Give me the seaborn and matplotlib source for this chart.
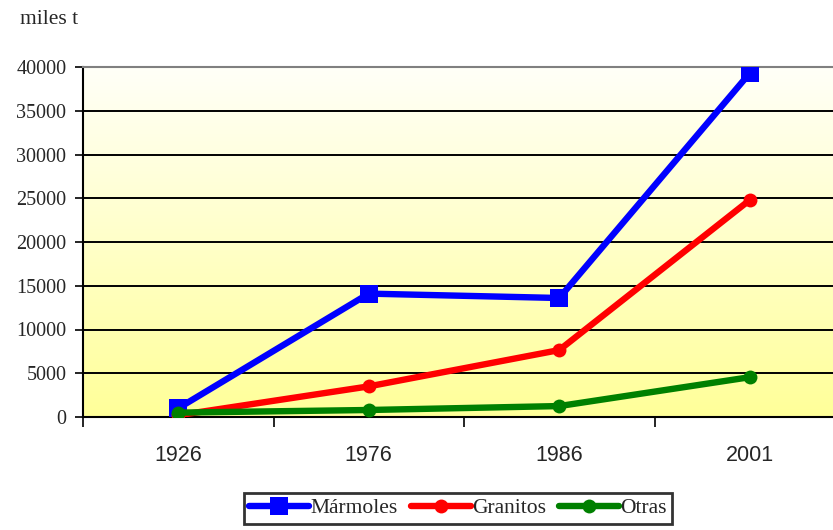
"""Producción de rocas ornamentales (miles t), 1926-2001."""
import matplotlib
matplotlib.use('Agg')
import matplotlib.pyplot as plt
from matplotlib.colors import LinearSegmentedColormap
import numpy as np
import pandas as pd
import seaborn as sns

years = ['1926', '1976', '1986', '2001']
marmoles = [1000, 14100, 13600, 39300]
granitos = [200, 3500, 7650, 24800]
otras = [500, 800, 1250, 4550]
series_names = ['Mármoles', 'Granitos', 'Otras']
y_ticks = [0, 5000, 10000, 15000, 20000, 25000, 30000, 35000, 40000]

df = pd.DataFrame({
    'year': years * 3,
    'value': marmoles + granitos + otras,
    'serie': [s for s in series_names for _ in years],
})

sns.set_theme(style='white')
plt.rcParams['font.family'] = ['Liberation Serif', 'DejaVu Serif']

fig = plt.figure(figsize=(8.33, 5.30), dpi=100)
ax = fig.add_axes([83 / 833, 113 / 530, 762 / 833, 350 / 530])

# fondo degradado blanco -> amarillo
grad = LinearSegmentedColormap.from_list('bg', ['#ffff99', '#fffff8'])
ax.imshow(np.linspace(0, 1, 256).reshape(-1, 1), cmap=grad, origin='lower',
          extent=[0, 1, 0, 1], transform=ax.transAxes, aspect='auto', zorder=0)

palette = {'Mármoles': '#0000ff', 'Granitos': '#ff0000', 'Otras': '#008000'}
markers = {'Mármoles': 's', 'Granitos': 'o', 'Otras': 'o'}
sizes = {'Mármoles': 12.5, 'Granitos': 10, 'Otras': 10}
for name in series_names:
    sub = df[df['serie'] == name]
    sns.lineplot(data=sub, x='year', y='value', ax=ax, color=palette[name],
                 marker=markers[name], markersize=sizes[name],
                 markeredgewidth=0, linewidth=4.6, label=name, zorder=3)

ax.set_xlim(-0.5, 3.5)
ax.set_ylim(0, 40000)
ax.set_yticks(y_ticks)
ax.set_yticklabels([str(v) for v in y_ticks], fontsize=14.5)
for v in y_ticks[1:-1]:
    ax.axhline(v, color='black', lw=1.4, zorder=1)
ax.grid(False)
ax.set_xlabel('')
ax.set_ylabel('')

ax.set_xticks(range(len(years)))
ax.set_xticklabels(years, fontsize=15.5, family='Liberation Sans')
ax.set_xticks([-0.5, 0.5, 1.5, 2.5], minor=True)
ax.tick_params(axis='x', which='major', length=0, pad=20)
ax.tick_params(axis='x', which='minor', length=7, width=1.2, color='black',
               direction='out', bottom=True)
ax.tick_params(axis='y', length=6, width=1.2, color='black', direction='out',
               left=True, pad=6)

for side in ['left', 'bottom']:
    ax.spines[side].set_color('black')
    ax.spines[side].set_linewidth(1.5)
ax.spines['top'].set_color('#808080')
ax.spines['top'].set_linewidth(1.5)
ax.spines['right'].set_visible(False)

fig.text(20 / 833, 1 - 20 / 530, 'miles t', fontsize=15.5, va='center', ha='left')

ax.get_legend().remove()
leg = fig.legend(*ax.get_legend_handles_labels(), loc='upper center',
                 bbox_to_anchor=(458 / 833, 1 - 493 / 530), ncol=3,
                 fontsize=15.5, frameon=True, fancybox=False, handlelength=2.8,
                 handletextpad=0.05, columnspacing=0.6, borderpad=0.25,
                 borderaxespad=0)
leg.get_frame().set_edgecolor('black')
leg.get_frame().set_linewidth(2)
leg.get_frame().set_facecolor('white')

fig.savefig('out.png', dpi=100)
